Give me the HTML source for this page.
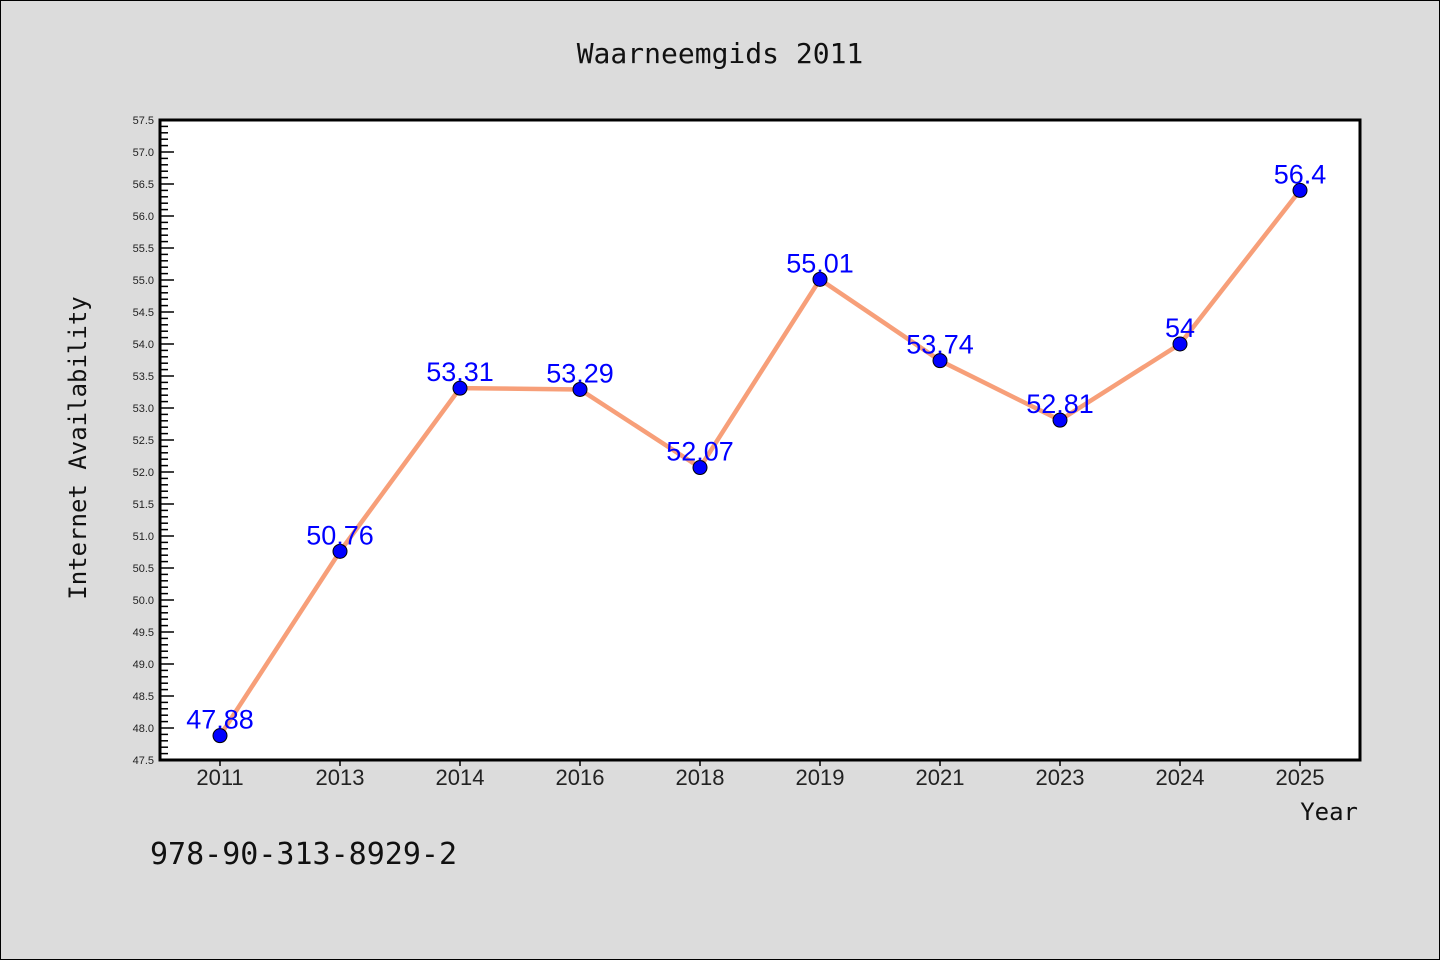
<!DOCTYPE html>
<html><head><meta charset="utf-8"><style>
body{margin:0;background:#dcdcdc;}
svg{display:block;font-family:"Liberation Sans","DejaVu Sans",sans-serif;}
</style></head><body>
<svg id="chart" width="1440" height="960">
<rect x="0.5" y="0.5" width="1439" height="959" fill="#dcdcdc" stroke="#000"/>
<text x="720" y="63" text-anchor="middle" font-size="28" font-family="DejaVu Sans Mono, monospace" fill="#111">Waarneemgids 2011</text>
<rect x="160" y="120" width="1200" height="640" fill="#fff"/>
<g id="yaxis"></g><g id="xaxis"></g><g id="series"></g>
<rect x="160" y="120" width="1200" height="640" fill="none" stroke="#000" stroke-width="3"/>
<text x="86" y="448" text-anchor="middle" font-size="24" font-family="DejaVu Sans Mono, monospace" fill="#111" transform="rotate(-90 86 448)">Internet Availability</text>
<text x="1358" y="820" text-anchor="end" font-size="24" font-family="DejaVu Sans Mono, monospace" fill="#111">Year</text>
<text x="150" y="864" font-size="30" font-family="DejaVu Sans Mono, monospace" fill="#111">978-90-313-8929-2</text>
</svg>
<script>
const categories=["2011","2013","2014","2016","2018","2019","2021","2023","2024","2025"];
const values=[47.88,50.76,53.31,53.29,52.07,55.01,53.74,52.81,54,56.4];
const valueLabels=["47.88","50.76","53.31","53.29","52.07","55.01","53.74","52.81","54","56.4"];
const yMin=47.5,yMax=57.5;
const ns="http://www.w3.org/2000/svg";
const L=160,T=120,W=1200,H=640;
const y=v=>T+H-(v-yMin)/(yMax-yMin)*H;
const x=i=>L+W/categories.length*(i+0.5);
function mk(tag,attrs,parent){const e=document.createElementNS(ns,tag);for(const k in attrs)e.setAttribute(k,attrs[k]);parent.appendChild(e);return e;}
const ya=document.getElementById('yaxis'),xa=document.getElementById('xaxis'),se=document.getElementById('series');
for(let k=0;k<=100;k++){const v=yMin+k*0.1;const major=k%5===0;
 const t=mk('line',{x1:L,x2:L+(major?14:8),y1:y(v),y2:y(v),stroke:'#000','stroke-width':1.5},ya);
 
 
 if(major){const tx=mk('text',{x:L-6,y:y(v)+4,'text-anchor':'end','font-size':11,fill:'#222'},ya);tx.textContent=v.toFixed(1);
 
 }}
categories.forEach((c,i)=>{
 const t=mk('line',{x1:x(i),x2:x(i),y1:T+H,y2:T+H+6,stroke:'#000','stroke-width':1.5},xa);
 
 
 const tx=mk('text',{x:x(i),y:T+H+25,'text-anchor':'middle','font-size':22,fill:'#222'},xa);tx.textContent=c;
 
 });
const line=mk('polyline',{points:values.map((v,i)=>x(i)+','+y(v)).join(' '),fill:'none',stroke:'#f79f79','stroke-width':4.5},se);


values.forEach((v,i)=>{
 const c=mk('circle',{cx:x(i),cy:y(v),r:7,fill:'#0000ff',stroke:'#000','stroke-width':1},se);
 
 
 const t=mk('text',{x:x(i),y:y(v)-7,'text-anchor':'middle','font-size':27,fill:'#0000ff'},se);t.textContent=valueLabels[i];
 
 });
</script>
</body></html>
